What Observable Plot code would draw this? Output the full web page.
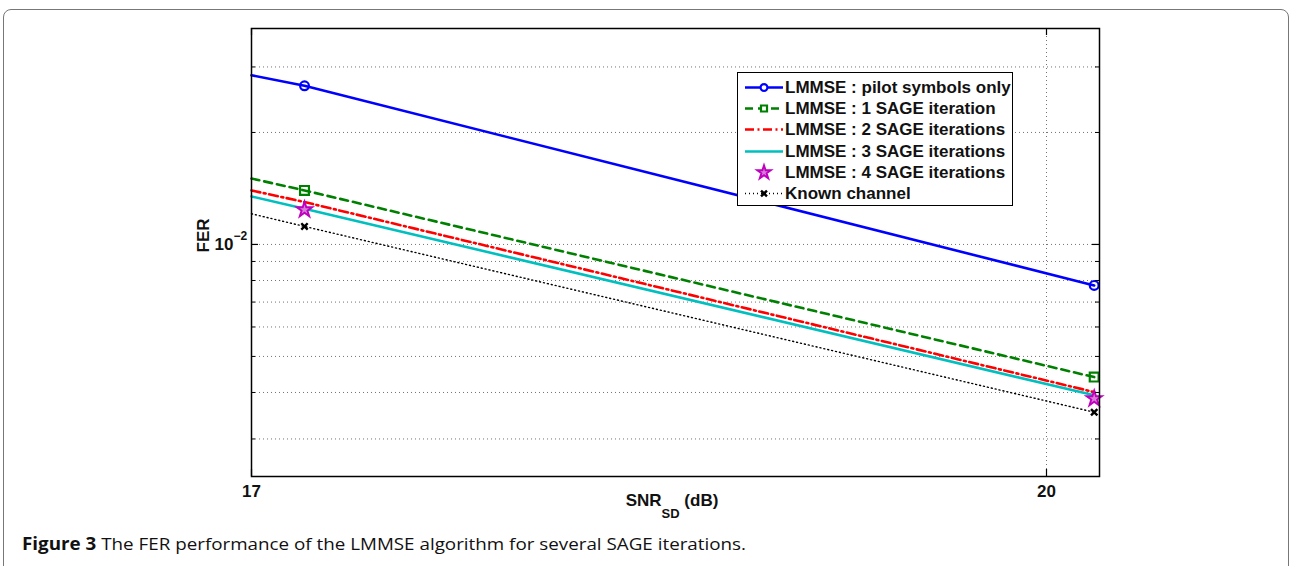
<!DOCTYPE html>
<html>
<head>
<meta charset="utf-8">
<script src="https://cdn.jsdelivr.net/npm/d3@7"></script>
<script src="https://cdn.jsdelivr.net/npm/@observablehq/plot@0.6"></script>
<style>
  body { margin: 0; background: #fff; width: 1291px; height: 566px; overflow: hidden; position: relative;
         font-family: "Liberation Sans", Arial, sans-serif; }
  #border { position: absolute; left: 3px; top: 8.5px; width: 1284px; height: 700px;
            border: 1.5px solid #777; border-radius: 8px; }
  #chart { position: absolute; left: 0; top: 0; }
  #legend { position: absolute; left: 737px; top: 72px; width: 276px; height: 134px;
            border: 1.5px solid #000; background: #fff; box-sizing: border-box; }
  .lrow { position: absolute; left: 0; height: 21px; line-height: 21px; font-size: 17px; font-weight: bold;
          color: #111; white-space: nowrap; }
  .lrow svg { position: absolute; left: 0; top: 0; }
  .lrow span { position: absolute; left: 47px; top: 0; }
  #xlabel { position: absolute; left: 572px; width: 200px; top: 491px; text-align: center;
            font-size: 17px; font-weight: bold; line-height: 20px; color: #111; }
  #xlabel sub { font-size: 13px; vertical-align: -12px; line-height: 0; }
  #caption { position: absolute; left: 22px; top: 532px; font-family: "Open Sans", sans-serif; font-size: 17px;
             color: #111; white-space: nowrap; transform-origin: 0 0; }
  #caption b { font-weight: bold; }
</style>
</head>
<body>
<div id="border"></div>
<div id="chart"></div>
<div id="legend"></div>
<div id="xlabel">SNR<sub>SD</sub> (dB)</div>
<div id="caption"><b>Figure 3</b> The FER performance of the LMMSE algorithm for several SAGE iterations.</div>
<script>
// ---------- data ----------
const seriesNames = [
  "LMMSE : pilot symbols only",
  "LMMSE : 1 SAGE iteration",
  "LMMSE : 2 SAGE iterations",
  "LMMSE : 3 SAGE iterations",
  "LMMSE : 4 SAGE iterations",
  "Known channel"
];
const snrLine = [17, 17.2, 20.18];        // SNR_SD (dB) along the curves (17 = left axis edge)
const snrMarker = [17.2, 20.18];          // SNR values carrying markers
const ferPilot = [2.85e-2, 2.67e-2, 7.76e-3];
const ferSage1 = [1.504e-2, 1.397e-2, 4.40e-3];
const ferSage2 = [1.397e-2, 1.30e-2, 4.01e-3];
const ferSage3 = [1.346e-2, 1.247e-2, 3.93e-3];
const ferSage4 = [1.24e-2, 3.85e-3];      // markers only
const ferKnown = [1.209e-2, 1.118e-2, 3.54e-3];

const xTicks = [17, 20];
const yTickLabelled = [1e-2];
const yGrid = [3e-3, 4e-3, 5e-3, 6e-3, 7e-3, 8e-3, 9e-3, 1e-2, 2e-2, 3e-2];
const xDomain = [17, 20.2];
const yDomain = [2.378e-3, 3.806e-2];

// ---------- styles ----------
const styles = [
  {color: "#0000ff", dash: null, width: 2.6, line: true, symbol: "circle", r: 4.4, fill: "none", sw: 2.2, lr: 3.4},
  {color: "#008000", dash: "8,5", width: 2.6, line: true, symbol: "square", r: 5, fill: "none", sw: 2.2, lr: 3.4},
  {color: "#ff0000", dash: "9,3.5,2,3.5", width: 2.6, line: true, symbol: null},
  {color: "#00bfbf", dash: null, width: 2.6, line: true, symbol: null},
  {color: "#bf00bf", dash: null, width: 0, line: false, symbol: "star", r: 4.8, fill: "#d77fd7", sw: 1.9, lr: 4.3},
  {color: "#000000", dash: "1,3", width: 1.4, line: true, symbol: "times", r: 3, fill: "none", sw: 2.4, lr: 2.8}
];
const lineValues = [ferPilot, ferSage1, ferSage2, ferSage3, null, ferKnown];

// ---------- tables ----------
const lineData = [];
const markerData = [];
lineValues.forEach((vals, s) => {
  if (vals) snrLine.forEach((x, i) => lineData.push({series: s, x, y: vals[i]}));
});
[[0, ferPilot.slice(1)], [1, ferSage1.slice(1)], [4, ferSage4], [5, ferKnown.slice(1)]].forEach(([s, vals]) => {
  snrMarker.forEach((x, i) => markerData.push({series: s, x, y: vals[i]}));
});

const xSpan = xDomain[1] - xDomain[0];
const minorLen = xSpan * 4 / 848, majorLen = xSpan * 7 / 848;
const logSpan = Math.log10(yDomain[1] / yDomain[0]);
const yTickFactor = Math.pow(10, logSpan * 7 / 448);

const marks = [
  Plot.gridY(yGrid, {stroke: "#444", strokeOpacity: 0.75, strokeDasharray: "1,3", strokeWidth: 1}),
  Plot.gridX(xTicks, {stroke: "#444", strokeOpacity: 0.75, strokeDasharray: "1,3", strokeWidth: 1}),
];
styles.forEach((st, s) => {
  if (st.line) marks.push(Plot.line(lineData.filter(d => d.series === s),
    {x: "x", y: "y", stroke: st.color, strokeWidth: st.width, strokeDasharray: st.dash}));
});
styles.forEach((st, s) => {
  if (st.symbol) marks.push(Plot.dot(markerData.filter(d => d.series === s),
    {x: "x", y: "y", symbol: st.symbol, r: st.r, stroke: st.color, fill: st.fill, strokeWidth: st.sw}));
});
// inward ticks
const minorY = yGrid.filter(v => !yTickLabelled.includes(v));
marks.push(
  Plot.ruleY(minorY, {y: d => d, x1: xDomain[0], x2: xDomain[0] + minorLen, stroke: "#000", strokeWidth: 1}),
  Plot.ruleY(minorY, {y: d => d, x1: xDomain[1] - minorLen, x2: xDomain[1], stroke: "#000", strokeWidth: 1}),
  Plot.ruleY(yTickLabelled, {y: d => d, x1: xDomain[0], x2: xDomain[0] + majorLen, stroke: "#000", strokeWidth: 1.2}),
  Plot.ruleY(yTickLabelled, {y: d => d, x1: xDomain[1] - majorLen, x2: xDomain[1], stroke: "#000", strokeWidth: 1.2}),
  Plot.ruleX(xTicks, {x: d => d, y1: yDomain[0], y2: yDomain[0] * yTickFactor, stroke: "#000", strokeWidth: 1.2}),
  Plot.ruleX(xTicks, {x: d => d, y1: yDomain[1] / yTickFactor, y2: yDomain[1], stroke: "#000", strokeWidth: 1.2}),
  Plot.frame({stroke: "#000", strokeWidth: 1.5}),
  Plot.axisX(xTicks, {tickSize: 0, tickPadding: 8, tickFormat: d => String(d), fontSize: 17, fontWeight: "bold", fill: "#111", label: null}),
  Plot.text(yTickLabelled, {y: d => d, frameAnchor: "left", dx: -18, textAnchor: "end", text: () => "10",
    fontSize: 17, fontWeight: "bold", fill: "#111"}),
  Plot.text(yTickLabelled, {y: d => d, frameAnchor: "left", dx: -18, dy: -8, textAnchor: "start", text: () => "\u22122",
    fontSize: 12, fontWeight: "bold", fill: "#111"}),
  Plot.text(["FER"], {frameAnchor: "left", dx: -48, rotate: -90, text: d => d,
    fontSize: 17, fontWeight: "bold", fill: "#111"})
);

const chart = Plot.plot({
  width: 1291,
  height: 520,
  marginLeft: 251,
  marginRight: 192,
  marginTop: 28,
  marginBottom: 44,
  x: {domain: xDomain, axis: null},
  y: {type: "log", domain: yDomain, axis: null},
  style: {fontFamily: "'Liberation Sans', Arial, sans-serif", background: "transparent", overflow: "visible"},
  marks
});
document.getElementById("chart").appendChild(chart);

// ---------- legend ----------
const legend = d3.select("#legend");
styles.forEach((st, s) => {
  const row = legend.append("div").attr("class", "lrow").style("top", (4 + s * 21.2) + "px");
  const svg = row.append("svg").attr("width", 48).attr("height", 21);
  if (st.line) svg.append("line").attr("x1", 7).attr("x2", 45).attr("y1", 10.5).attr("y2", 10.5)
    .attr("stroke", st.color).attr("stroke-width", st.width).attr("stroke-dasharray", st.dash);
  if (st.symbol) {
    const rr = st.lr;
    const sym = {circle: d3.symbolCircle, square: d3.symbolSquare, star: d3.symbolStar, times: d3.symbolTimes}[st.symbol];
    svg.append("path").attr("d", d3.symbol(sym, Math.PI * rr * rr)()).attr("transform", "translate(26,10.5)")
      .attr("fill", st.symbol === "circle" || st.symbol === "square" ? "#fff" : st.fill)
      .attr("stroke", st.color).attr("stroke-width", st.sw);
  }
  row.append("span").text(seriesNames[s]);
});

// fit caption to the width it spans in the figure
const cap = document.getElementById("caption");
const target = 724;
const w = cap.getBoundingClientRect().width;
if (w > 0) cap.style.transform = `scaleX(${target / w})`;
</script>
</body>
</html>
